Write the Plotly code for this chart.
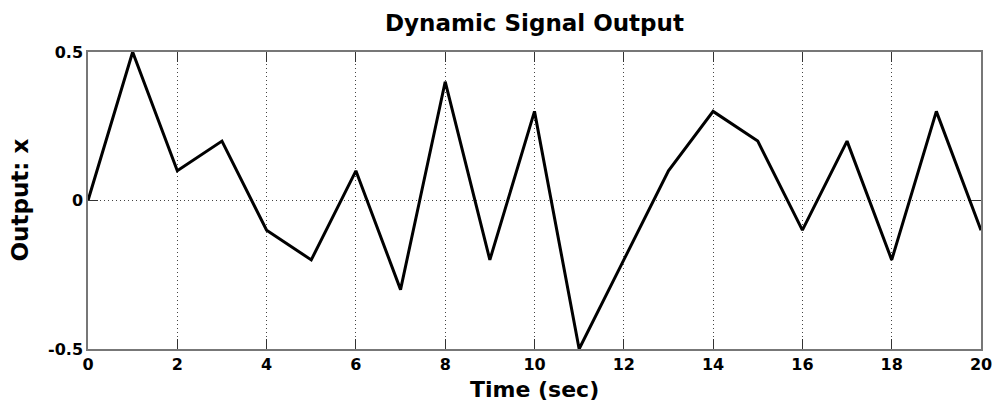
import plotly.graph_objects as go

time_sec = list(range(0, 21))
output_x = [0, 0.5, 0.1, 0.2, -0.1, -0.2, 0.1, -0.3, 0.4, -0.2, 0.3,
            -0.5, -0.2, 0.1, 0.3, 0.2, -0.1, 0.2, -0.2, 0.3, -0.1]
x_ticks = [0, 2, 4, 6, 8, 10, 12, 14, 16, 18, 20]
y_ticks = [-0.5, 0, 0.5]
y_tick_labels = ["-0.5", "0", "0.5"]

FONT = "DejaVu Sans"

fig = go.Figure()
fig.add_trace(go.Scatter(x=time_sec, y=output_x, mode="lines",
                         line=dict(color="black", width=3)))

axis_common = dict(
    showline=True, linecolor="#777777", linewidth=1.5, mirror="ticks",
    ticks="inside", ticklen=10, tickcolor="#333333", tickwidth=1,
    showgrid=True, gridcolor="#444444", griddash="1px,3px", gridwidth=1,
    zeroline=False, automargin=False,
    tickfont=dict(family=FONT, size=16, color="black", weight="bold"),
)

fig.update_layout(
    width=993, height=412,
    margin=dict(l=88, r=12, t=52, b=63, autoexpand=False),
    paper_bgcolor="white", plot_bgcolor="white",
    showlegend=False,
    xaxis=dict(range=[0, 20], tickvals=x_ticks, **axis_common),
    yaxis=dict(range=[-0.5, 0.5], tickvals=y_ticks, ticktext=y_tick_labels,
               **axis_common),
    annotations=[
        dict(text="<b>Dynamic Signal Output</b>", xref="paper", yref="paper",
             x=0.5, y=1, yshift=14, xanchor="center", yanchor="bottom",
             showarrow=False, font=dict(family=FONT, size=23, color="black")),
        dict(text="<b>Time (sec)</b>", xref="paper", yref="paper",
             x=0.5, y=0, yshift=-26, xanchor="center", yanchor="top",
             showarrow=False, font=dict(family=FONT, size=22, color="black")),
        dict(text="<b>Output: x</b>", xref="paper", yref="paper",
             x=0, y=0.5, xshift=-54, xanchor="right", yanchor="middle",
             textangle=-90,
             showarrow=False, font=dict(family=FONT, size=23, color="black")),
    ],
)

fig.write_html("out.html")
